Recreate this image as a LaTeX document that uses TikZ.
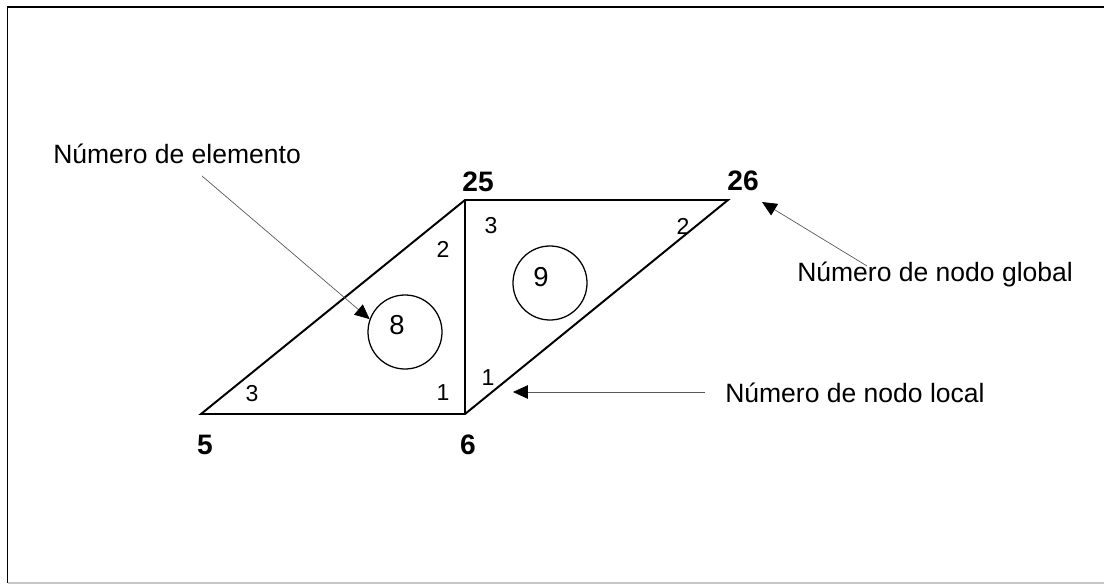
\documentclass[tikz,border=0pt]{standalone}
\usepackage{fontspec}
\setmainfont{Liberation Sans}
\usetikzlibrary{arrows.meta}
\tikzset{
  edge/.style={line width=1.4pt},
  elem/.style={draw, circle, line width=0.9pt, minimum size=1.85cm, inner sep=0pt},
  elemnum/.style={font=\fontsize{19.5}{23}\selectfont, inner sep=0pt},
  glob/.style={font=\fontsize{20}{24}\selectfont\bfseries, inner sep=0pt},
  loc/.style={font=\fontsize{16.4}{20}\selectfont, inner sep=0pt},
  lbl/.style={font=\fontsize{18.85}{22}\selectfont, inner sep=0pt, anchor=base west},
  ptr/.style={draw=gray!70!black, line width=0.5pt,
    -{Triangle[length=10.5pt,width=9.5pt,color=black,fill=black]}}
}
\begin{document}
\begin{tikzpicture}[x=0.025cm,y=-0.025cm]
\useasboundingbox (0,0) rectangle (1104,584);
% marco
\draw[line width=1.4pt] (1110,7) -- (7.5,7) -- (7.5,583);
\draw[gray!45, line width=1pt] (7.5,583) -- (1110,583);
% nodos globales
\coordinate (v5) at (201,414);
\coordinate (v6) at (465,414);
\coordinate (v25) at (465,200);
\coordinate (v26) at (728,200);
\draw[edge] (v5) -- (v6) -- (v26) -- (v25) -- cycle;
\draw[edge] (v25) -- (v6);
\node[glob] (n5) at (205,445) {5};
\node[glob] (n6) at (468,445) {6};
\node[glob] (n25) at (478,182) {25};
\node[glob] (n26) at (743,181) {26};
% nodos locales
\node[loc] (l8a) at (252,394) {3};
\node[loc] (l8b) at (443,393) {1};
\node[loc] (l8c) at (443,249) {2};
\node[loc] (l9a) at (488,378) {1};
\node[loc] (l9b) at (683,226) {2};
\node[loc] (l9c) at (491,226) {3};
% elementos
\node[elem] (e8) at (405,332) {};
\node[elem] (e9) at (550,283) {};
\node[elemnum] at (397,325) {8};
\node[elemnum] at (541,277) {9};
% leyendas
\node[lbl] (lelem) at (53,163) {Número de elemento};
\node[lbl] (lglob) at (797,281) {Número de nodo global};
\node[lbl] (lloc) at (725,402) {Número de nodo local};
\coordinate (a1) at (202,176);
\coordinate (a2) at (867,266);
\coordinate (a3) at (705,392);
\coordinate (t2) at (762,202);
\coordinate (t3) at (513,392);
\draw[ptr] (a1) -- (e8.160);
\draw[ptr] (a2) -- (t2);
\draw[ptr] (a3) -- (t3);
\end{tikzpicture}
\end{document}
